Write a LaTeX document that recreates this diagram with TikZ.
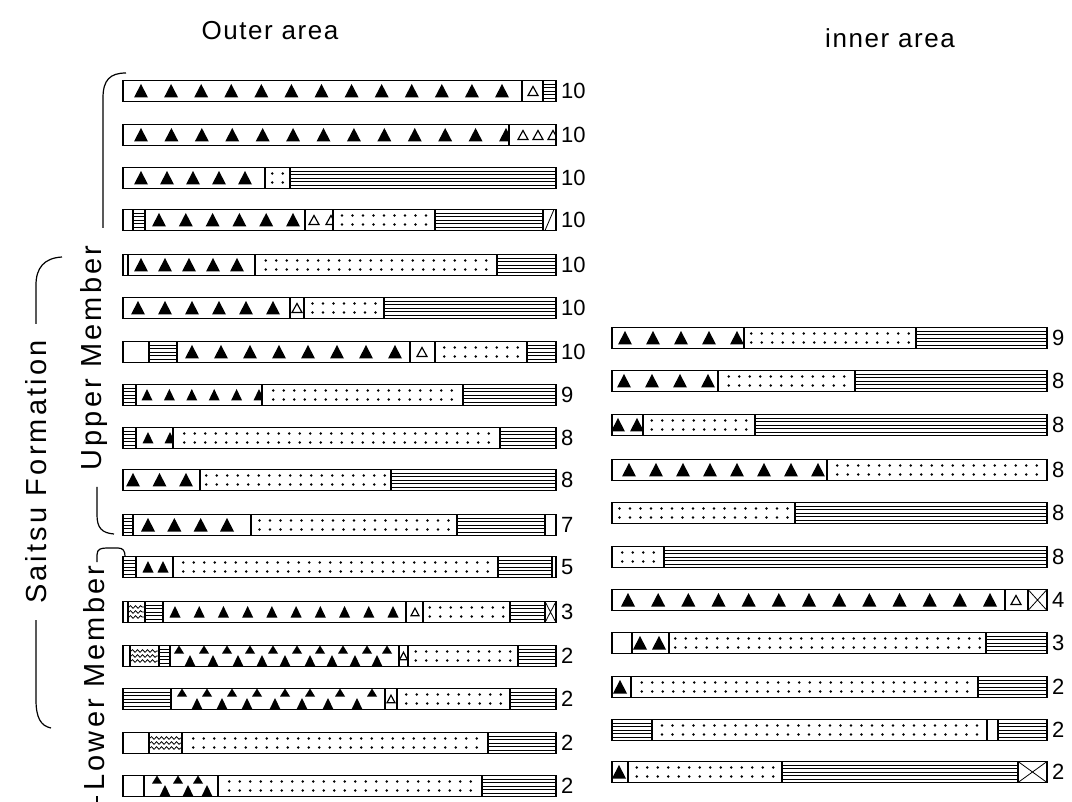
\documentclass[tikz,border=0pt]{standalone}
\usepackage{fontspec}
\setmainfont{Liberation Sans}
\newfontfamily\lblfont[LetterSpace=11]{Liberation Sans}
\newfontfamily\hdrfont[LetterSpace=6]{Liberation Sans}
\usetikzlibrary{decorations.pathmorphing}
\tikzset{
  bar/.style={line width=1.6pt},
  hatch/.style={line width=0.8pt},
  brk/.style={line width=1.2pt},
  num/.style={anchor=west, inner sep=0pt, font=\fontsize{22}{22}\selectfont},
  side/.style={rotate=90, inner sep=0pt, font=\lblfont\fontsize{29}{29}\selectfont},
  head/.style={inner sep=0pt, font=\hdrfont\fontsize{26}{26}\selectfont},
}
\def\trw{7}\def\trb{6.5}\def\trt{7}
\def\otw{5}\def\oth{4.5}
\newcommand\smalltri{\def\trw{5.5}\def\trb{5.5}\def\trt{6}}
\newcommand\smallopen{\def\otw{4}\def\oth{3.8}}
\newcommand\Rect[3]{\draw[bar] (#2,{#1-10.5}) rectangle (#3,{#1+10.5});}
\newcommand\BLk[3]{\Rect{#1}{#2}{#3}}
\newcommand\HLn[3]{\foreach \oy in {-7,-3.5,0,3.5,7}{\draw[hatch] (#2,{#1+\oy}) -- (#3,{#1+\oy});}\Rect{#1}{#2}{#3}}
\newcommand\DTs[3]{%
  \pgfmathtruncatemacro\nd{max(1,int((#3-#2-2)/10.5))}%
  \pgfmathsetmacro\dof{(#3-#2-(\nd-1)*10.5)/2}%
  \foreach \i in {1,...,\nd}{\pgfmathsetmacro\dxx{#2+\dof+(\i-1)*10.5}\fill ({\dxx},{#1-4.5}) circle (1.3) ({\dxx},{#1+4.5}) circle (1.3);}%
  \Rect{#1}{#2}{#3}}
\newcommand\BTs[6]{%
  \begin{scope}
  \clip (#2,{#1-10.5}) rectangle (#3,{#1+10.5});
  \pgfmathsetmacro\tst{(#5-#4)/max(#6-1,1)}
  \foreach \i in {1,...,#6}{\pgfmathsetmacro\tcx{#4+(\i-1)*\tst}
    \fill ({\tcx-\trw},{#1+\trb}) -- (\tcx,{#1-\trt}) -- ({\tcx+\trw},{#1+\trb}) -- cycle;}
  \end{scope}\Rect{#1}{#2}{#3}}
\newcommand\OTs[6]{%
  \begin{scope}
  \clip (#2,{#1-10.5}) rectangle (#3,{#1+10.5});
  \pgfmathsetmacro\tst{(#5-#4)/max(#6-1,1)}
  \foreach \i in {1,...,#6}{\pgfmathsetmacro\tcx{#4+(\i-1)*\tst}
    \draw[line width=1.2pt, line join=miter] ({\tcx-\otw},{#1+\oth}) -- (\tcx,{#1-\oth}) -- ({\tcx+\otw},{#1+\oth}) -- cycle;}
  \end{scope}\Rect{#1}{#2}{#3}}
\newcommand\STg[5]{%
  \begin{scope}
  \clip (#2,{#1-10.5}) rectangle (#3,{#1+10.5});
  \foreach \sc in {#4}{\fill ({\sc-5},{#1-2.5}) -- (\sc,{#1-10.5}) -- ({\sc+5},{#1-2.5}) -- cycle;}
  \foreach \sc in {#5}{\fill ({\sc-5.5},{#1+10.5}) -- (\sc,{#1-1}) -- ({\sc+5.5},{#1+10.5}) -- cycle;}
  \end{scope}\Rect{#1}{#2}{#3}}
\newcommand\WVy[3]{\foreach \oy in {-5,0,5}{\draw[hatch, decorate, decoration={snake, segment length=5pt, amplitude=1.3pt}] ({#2+1},{#1+\oy}) -- ({#3-1},{#1+\oy});}\Rect{#1}{#2}{#3}}
\newcommand\XXb[3]{\draw[hatch] (#2,{#1-10.5}) -- (#3,{#1+10.5}) (#2,{#1+10.5}) -- (#3,{#1-10.5});\Rect{#1}{#2}{#3}}
\newcommand\SLb[3]{\draw[hatch] ({#2+2},{#1+10.5}) -- ({#3-2},{#1-10.5});\Rect{#1}{#2}{#3}}
\begin{document}
\begin{tikzpicture}[x=1pt,y=-1pt]
\useasboundingbox (0,0) rectangle (1072,802);
% headings
\node[head] (hout) at (270,31) {Outer area};
\node[head] (hin) at (890,38) {inner area};
% side labels
\node[side] (upm) at (94,358) {Upper Member};
\node[side] (lowm) at (94,678) {Lower Member};
\node[side] (sfm) at (36,472) {Saitsu Formation};
\draw[brk] (126,73) .. controls (110,73) and (103,80) .. (103,98) -- (103,228);
\draw[brk] (97,487) -- (97,515) .. controls (97,528) and (102,533) .. (114,534);
\draw[brk] (97,562) -- (97,555) .. controls (97,549) and (101,548) .. (107,548) -- (118,548) .. controls (123,548) and (125,551) .. (125,556);
\draw[brk] (97,796) -- (97,802);
\draw[brk] (62,257) .. controls (44,258) and (36,268) .. (36,285) -- (36,324);
\draw[brk] (36,620) -- (36,700) .. controls (36,718) and (41,726) .. (51,728);
% ---------- outer area ----------
% row 1
\BTs{91}{123}{522}{141}{502}{13}
\OTs{91}{522}{543}{533}{533}{1}
\HLn{91}{543}{556}
\node[num] (l1) at (561,91) {10};
% row 2
\BTs{135}{123}{509}{141}{506}{13}
\OTs{135}{509}{556}{523}{553}{3}
\node[num] (l2) at (561,135) {10};
% row 3
\BTs{178}{123}{265}{141}{245}{5}
\DTs{178}{265}{290}
\HLn{178}{290}{556}
\node[num] (l3) at (561,178) {10};
% row 4
\BLk{220}{123}{133}
\HLn{220}{133}{145}
\BTs{220}{145}{305}{159}{293}{6}
\OTs{220}{305}{333}{314}{331}{2}
\DTs{220}{333}{435}
\HLn{220}{435}{543}
\SLb{220}{543}{556}
\node[num] (l4) at (561,220) {10};
% row 5
\BLk{265}{123}{128}
\BTs{265}{128}{255}{141}{237}{5}
\DTs{265}{255}{497}
\HLn{265}{497}{556}
\node[num] (l5) at (561,265) {10};
% row 6
\BTs{308}{123}{290}{138}{273}{6}
\OTs{308}{290}{304}{297}{297}{1}
\DTs{308}{304}{384}
\HLn{308}{384}{556}
\node[num] (l6) at (561,308) {10};
% row 7
\BLk{352}{123}{149}
\HLn{352}{149}{177}
\BTs{352}{177}{410}{192}{395}{8}
\OTs{352}{410}{435}{422}{422}{1}
\DTs{352}{435}{527}
\HLn{352}{527}{556}
\node[num] (l7) at (561,352) {10};
% row 8
\HLn{395}{123}{136}
{\smalltri\BTs{395}{136}{262}{147}{259}{6}}
\DTs{395}{262}{463}
\HLn{395}{463}{556}
\node[num] (l8) at (561,395) {9};
% row 9
\HLn{438}{123}{136}
{\smalltri\BTs{438}{136}{173}{148}{170}{2}}
\DTs{438}{173}{500}
\HLn{438}{500}{556}
\node[num] (l9) at (561,438) {8};
% row 10
\BTs{480}{123}{200}{133}{186}{3}
\DTs{480}{200}{391}
\HLn{480}{391}{556}
\node[num] (l10) at (561,480) {8};
% row 11
\HLn{525}{123}{133}
\BTs{525}{133}{251}{148}{227}{4}
\DTs{525}{251}{457}
\HLn{525}{457}{545}
\BLk{525}{545}{556}
\node[num] (l11) at (561,525) {7};
% row 12
\HLn{567}{123}{136}
{\smalltri\BTs{567}{136}{173}{148}{163}{2}}
\DTs{567}{173}{498}
\HLn{567}{498}{552}
\BLk{567}{552}{556}
\node[num] (l12) at (561,567) {5};
% row 13
\BLk{612}{123}{128}
\WVy{612}{128}{145}
\HLn{612}{145}{163}
{\smalltri\BTs{612}{163}{406}{175}{393}{10}}
{\smallopen\OTs{612}{406}{423}{415}{415}{1}}
\DTs{612}{423}{510}
\HLn{612}{510}{545}
\XXb{612}{545}{556}
\node[num] (l13) at (561,612) {3};
% row 14
\BLk{656}{123}{130}
\WVy{656}{130}{159}
\HLn{656}{159}{170}
\STg{656}{170}{399}{179,204,227,250,273,297,320,343,367,387}{190,213,238,262,285,310,332,355,377}
{\smallopen\OTs{656}{399}{408}{403.5}{403.5}{1}}
\DTs{656}{408}{518}
\HLn{656}{518}{556}
\node[num] (l14) at (561,656) {2};
% row 15
\HLn{699}{123}{171}
\STg{699}{171}{385}{182,207,232,257,285,310,340,372}{197,222,247,275,302,328,357}
{\smallopen\OTs{699}{385}{397}{391}{391}{1}}
\DTs{699}{397}{510}
\HLn{699}{510}{556}
\node[num] (l15) at (561,699) {2};
% row 16
\BLk{743}{123}{149}
\WVy{743}{149}{182}
\DTs{743}{182}{488}
\HLn{743}{488}{556}
\node[num] (l16) at (561,743) {2};
% row 17
\BLk{786}{123}{144}
\STg{786}{144}{218}{157,178,198}{165,188,207}
\DTs{786}{218}{482}
\HLn{786}{482}{556}
\node[num] (l17) at (561,786) {2};
% ---------- inner area ----------
% R1
\BTs{338}{612}{744}{625}{737}{5}
\DTs{338}{744}{916}
\HLn{338}{916}{1047}
\node[num] (r1) at (1052,338) {9};
% R2
\BTs{381}{612}{718}{624}{708}{4}
\DTs{381}{718}{855}
\HLn{381}{855}{1047}
\node[num] (r2) at (1052,381) {8};
% R3
\BTs{425}{612}{643}{618}{637}{2}
\DTs{425}{643}{755}
\HLn{425}{755}{1047}
\node[num] (r3) at (1052,425) {8};
% R4
\BTs{470}{612}{827}{629}{818}{8}
\DTs{470}{827}{1047}
\node[num] (r4) at (1052,470) {8};
% R5
\DTs{513}{612}{795}
\HLn{513}{795}{1047}
\node[num] (r5) at (1052,513) {8};
% R6
\DTs{557}{612}{664}
\HLn{557}{664}{1047}
\node[num] (r6) at (1052,557) {8};
% R7
\BTs{600}{612}{1005}{628}{990}{13}
\OTs{600}{1005}{1028}{1016}{1016}{1}
\XXb{600}{1028}{1047}
\node[num] (r7) at (1052,600) {4};
% R8
\BLk{643}{612}{632}
\BTs{643}{632}{669}{640}{659}{2}
\DTs{643}{669}{986}
\HLn{643}{986}{1047}
\node[num] (r8) at (1052,643) {3};
% R9
\BTs{687}{612}{631}{620}{620}{1}
\DTs{687}{631}{978}
\HLn{687}{978}{1047}
\node[num] (r9) at (1052,687) {2};
% R10
\HLn{730}{612}{652}
\DTs{730}{652}{987}
\BLk{730}{987}{998}
\HLn{730}{998}{1047}
\node[num] (r10) at (1052,730) {2};
% R11
\BTs{772}{612}{628}{619}{619}{1}
\DTs{772}{628}{782}
\HLn{772}{782}{1018}
\XXb{772}{1018}{1047}
\node[num] (r11) at (1052,772) {2};
\end{tikzpicture}
\end{document}
